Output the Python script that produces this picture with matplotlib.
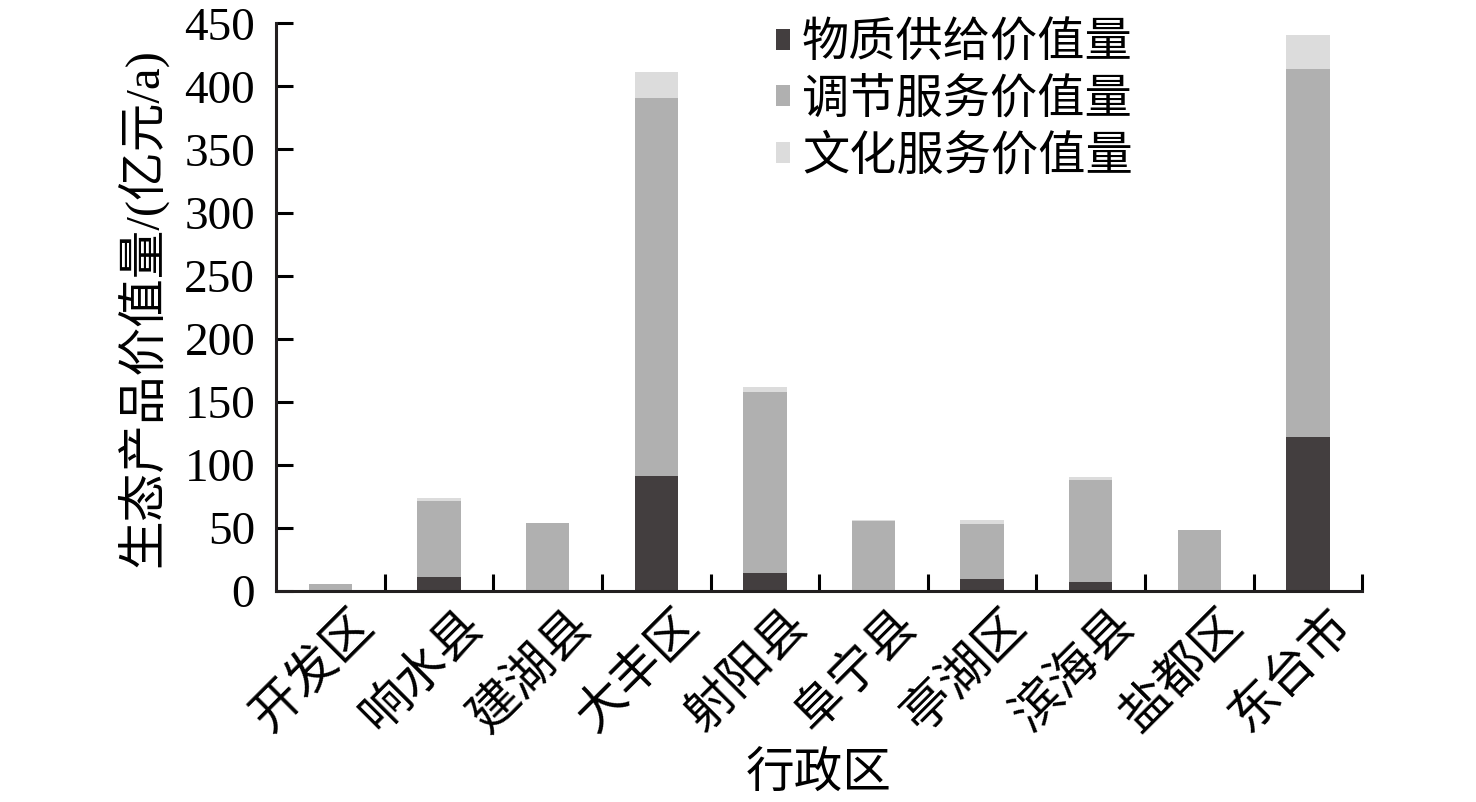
import numpy as np
import matplotlib
matplotlib.use('Agg')
import matplotlib.pyplot as plt
from matplotlib.transforms import ScaledTranslation

plt.rcParams['font.family'] = ['Liberation Serif', 'Noto Sans CJK SC']
plt.rcParams['axes.unicode_minus'] = False

# Ecosystem product value by district (1e8 yuan / a)
districts = ['开发区', '响水县', '建湖县', '大丰区', '射阳县',
             '阜宁县', '亭湖区', '滨海县', '盐都区', '东台市']
material = [0.3, 11.5, 0.4, 91, 14.5, 0.4, 9.5, 7.4, 0.3, 122]
regulating = [5.0, 60, 53.2, 300, 143.5, 55.3, 43.8, 80.3, 48.0, 291.5]
cultural = [0.3, 2.5, 0.3, 20, 3.5, 0.3, 2.7, 2.6, 0.3, 27.5]

series_names = ['物质供给价值量', '调节服务价值量', '文化服务价值量']
colors = ['#433e3f', '#b0b0b0', '#dcdcdc']

fig = plt.figure(figsize=(14.76, 8.02), dpi=100)
ax = fig.add_axes([0.187, 0.263, 0.736, 0.708])

x = np.arange(len(districts))
bottom = np.zeros(len(districts))
for vals, name, c in zip([material, regulating, cultural], series_names, colors):
    ax.bar(x, vals, width=0.4, bottom=bottom, color=c, label=name, edgecolor='none')
    bottom += np.array(vals)

ax.set_xlim(-0.5, len(districts) - 0.5)
ax.set_ylim(0, 450)
ax.set_yticks(np.arange(0, 451, 50))

ax.set_xticks(x)
ax.set_xticklabels(districts, rotation=45, ha='right', rotation_mode='anchor')
ax.set_xticks(np.arange(0.5, len(districts), 1), minor=True)
ax.tick_params(axis='x', which='major', length=0, labelsize=36, pad=8)
ax.tick_params(axis='x', which='minor', direction='in', length=12, width=2.2)
ax.tick_params(axis='y', direction='in', length=12, width=2.2, labelsize=34, pad=15)

# nudge the slanted district names to the right
shift = ScaledTranslation(20 / 100, 0, fig.dpi_scale_trans)
for lbl in ax.get_xticklabels():
    lbl.set_transform(lbl.get_transform() + shift)

for side in ['top', 'right']:
    ax.spines[side].set_visible(False)
for side in ['left', 'bottom']:
    ax.spines[side].set_linewidth(2.2)
    ax.spines[side].set_color('#231f20')

ax.set_ylabel('生态产品价值量/(亿元/a)', fontsize=35, labelpad=12)
ax.set_xlabel('行政区', fontsize=35)
ax.xaxis.set_label_coords(0.5, -0.285)

leg = ax.legend(loc='upper left', bbox_to_anchor=(0.443, 1.035), frameon=False,
                fontsize=34, handlelength=0.3, handleheight=0.3,
                handletextpad=0.25, labelspacing=0.25, borderaxespad=0)

fig.savefig('out.png', dpi=100)
